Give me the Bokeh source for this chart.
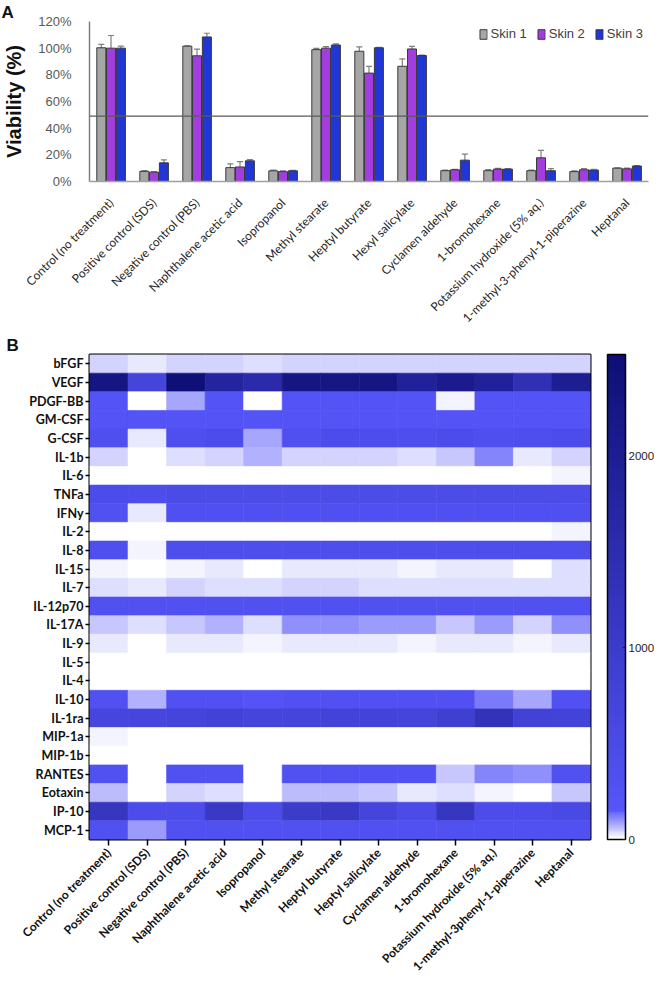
import math
from bokeh.plotting import figure
from bokeh.models import (ColumnDataSource, FactorRange, Span, Whisker, TeeHead, Legend, LegendItem,
                          LinearColorMapper, ColorBar, FixedTicker)
from bokeh.layouts import column
from bokeh.transform import dodge
from bokeh.embed import file_html
from bokeh.resources import INLINE

# ---------------- Panel A data ----------------
treatments_a = ["Control (no treatment)", "Positive control (SDS)", "Negative control (PBS)",
                "Naphthalene acetic acid", "Isopropanol", "Methyl stearate", "Heptyl butyrate",
                "Hexyl salicylate", "Cyclamen aldehyde", "1-bromohexane",
                "Potassium hydroxide (5% aq.)", "1-methyl-3-phenyl-1-piperazine", "Heptanal"]
skin1 = [100.3, 7.6, 101.5, 10.4, 8.0, 98.9, 97.7, 86.4, 8.1, 8.1, 8.1, 7.4, 10.0]
skin1_err = [2.5, 0.5, 0.3, 2.8, 0.5, 1.0, 3.2, 5.5, 0.5, 0.8, 0.5, 0.5, 0.3]
skin2 = [100.0, 7.0, 94.3, 10.9, 7.4, 100.0, 81.3, 99.4, 8.8, 9.3, 17.8, 8.8, 9.5]
skin2_err = [9.5, 0.5, 5.0, 4.0, 0.6, 1.2, 5.0, 2.0, 0.3, 0.5, 5.5, 0.8, 0.5]
skin3 = [100.0, 14.0, 108.4, 15.5, 8.0, 102.4, 100.3, 94.5, 16.0, 9.3, 8.1, 8.6, 11.6]
skin3_err = [1.5, 2.2, 2.8, 1.0, 0.4, 0.8, 0.4, 0.3, 4.6, 0.4, 1.6, 0.6, 0.3]
series_names = ["Skin 1", "Skin 2", "Skin 3"]
threshold = 49
y_ticks_a = [0, 20, 40, 60, 80, 100, 120]

# ---------------- Panel B data ----------------
treatments_b = ["Control (no treatment)", "Positive control (SDS)", "Negative control (PBS)",
                "Naphthalene acetic acid", "Isopropanol", "Methyl stearate", "Heptyl butyrate",
                "Heptyl salicylate", "Cyclamen aldehyde", "1-bromohexane",
                "Potassium hydroxide (5% aq.)", "1-methyl-3phenyl-1-piperazine", "Heptanal"]
cytokines = ["bFGF", "VEGF", "PDGF-BB", "GM-CSF", "G-CSF", "IL-1b", "IL-6", "TNFa", "IFNy", "IL-2",
             "IL-8", "IL-15", "IL-7", "IL-12p70", "IL-17A", "IL-9", "IL-5", "IL-4", "IL-10", "IL-1ra",
             "MIP-1a", "MIP-1b", "RANTES", "Eotaxin", "IP-10", "MCP-1"]
bFGF = [40, 28, 40, 40, 36, 40, 40, 40, 42, 40, 42, 40, 42]
VEGF = [2300, 700, 2500, 1800, 1600, 2300, 2250, 2300, 1900, 2100, 1900, 1400, 2000]
PDGF_BB = [220, 8, 85, 220, 0, 220, 220, 220, 220, 15, 220, 220, 220]
GM_CSF = [230, 230, 230, 230, 230, 230, 230, 230, 230, 230, 230, 230, 230]
G_CSF = [350, 20, 350, 450, 85, 330, 450, 420, 400, 450, 350, 380, 450]
IL_1b = [45, 3, 35, 45, 75, 42, 48, 40, 35, 55, 110, 25, 40]
IL_6 = [8, 3, 7, 6, 5, 6, 7, 8, 7, 8, 7, 9, 12]
TNFa = [450, 430, 480, 470, 470, 470, 460, 470, 470, 470, 460, 460, 470]
IFNy = [300, 22, 330, 330, 330, 330, 330, 330, 330, 330, 330, 330, 330]
IL_2 = [8, 3, 7, 6, 4, 6, 5, 5, 5, 5, 5, 6, 12]
IL_8 = [350, 15, 380, 380, 380, 380, 380, 380, 380, 400, 380, 380, 380]
IL_15 = [15, 0, 15, 22, 2, 28, 28, 22, 15, 22, 25, 3, 35]
IL_7 = [35, 22, 42, 37, 30, 42, 42, 37, 37, 35, 37, 30, 37]
IL_12p70 = [300, 300, 300, 300, 300, 300, 300, 300, 300, 300, 300, 300, 300]
IL_17A = [55, 30, 55, 70, 35, 105, 105, 90, 90, 55, 90, 45, 105]
IL_9 = [22, 6, 22, 22, 15, 20, 20, 20, 18, 20, 20, 18, 28]
IL_5 = [2, 2, 2, 2, 2, 2, 2, 2, 2, 2, 2, 2, 2]
IL_4 = [3, 3, 3, 3, 3, 3, 3, 3, 3, 3, 3, 3, 3]
IL_10 = [300, 70, 300, 300, 220, 300, 300, 300, 300, 300, 125, 80, 300]
IL_1ra = [650, 650, 700, 800, 700, 700, 750, 750, 700, 900, 1300, 800, 750]
MIP_1a = [10, 2, 7, 7, 6, 8, 8, 7, 7, 7, 7, 6, 7]
MIP_1b = [2, 1, 2, 2, 1, 2, 2, 2, 2, 2, 2, 2, 2]
RANTES = [300, 0, 300, 300, 0, 300, 300, 280, 280, 50, 110, 105, 300]
Eotaxin = [60, 0, 48, 35, 0, 65, 62, 55, 22, 35, 10, 7, 55]
IP_10 = [1200, 450, 450, 1100, 450, 1000, 1100, 700, 500, 1200, 450, 450, 550]
MCP_1 = [300, 90, 300, 300, 300, 300, 300, 300, 300, 300, 300, 300, 300]
rows = [bFGF, VEGF, PDGF_BB, GM_CSF, G_CSF, IL_1b, IL_6, TNFa, IFNy, IL_2, IL_8, IL_15, IL_7,
        IL_12p70, IL_17A, IL_9, IL_5, IL_4, IL_10, IL_1ra, MIP_1a, MIP_1b, RANTES, Eotaxin, IP_10, MCP_1]
colorbar_ticks = [0, 1000, 2000]
color_low, color_high = 0, 2530

ARIAL = "Liberation Sans"
CAL = "Lato"

# ---------------- Panel A ----------------
pA = figure(x_range=FactorRange(*treatments_a), y_range=(0, 120),
            frame_width=559, frame_height=160,
            output_backend="svg", toolbar_location=None,
            min_border_left=89, min_border_right=6, min_border_top=0, min_border_bottom=152)
pA.outline_line_color = None
pA.xgrid.grid_line_color = None
pA.ygrid.grid_line_color = None

pA.title.text = "A"
pA.title.align = "left"
pA.title.offset = -88
pA.title.standoff = 0
pA.title.text_font = ARIAL
pA.title.text_font_style = "bold"
pA.title.text_font_size = "17px"
pA.title.text_color = "#111111"

src = ColumnDataSource(dict(
    t=treatments_a,
    s1=skin1, s2=skin2, s3=skin3,
    s1u=[v + e for v, e in zip(skin1, skin1_err)], s1l=[v - e for v, e in zip(skin1, skin1_err)],
    s2u=[v + e for v, e in zip(skin2, skin2_err)], s2l=[v - e for v, e in zip(skin2, skin2_err)],
    s3u=[v + e for v, e in zip(skin3, skin3_err)], s3l=[v - e for v, e in zip(skin3, skin3_err)],
))

bar_colors = ["#a6a6a6", "#a23de0", "#2036d6"]
offsets = [-0.225, 0.0, 0.23]
keys = ["s1", "s2", "s3"]
renderers = []
for key, col, off in zip(keys, bar_colors, offsets):
    r = pA.vbar(x=dodge("t", off, range=pA.x_range), top=key, width=0.21, source=src,
                fill_color=col, line_color="#3a3a3a", line_width=1)
    renderers.append(r)
    w = Whisker(source=src, base=dodge("t", off, range=pA.x_range), upper=key + "u", lower=key + "l",
                line_color="#7f7f7f", line_width=1.2,
                upper_head=TeeHead(size=6, line_color="#7f7f7f", line_width=1.2),
                lower_head=TeeHead(size=6, line_color="#7f7f7f", line_width=1.2))
    pA.add_layout(w)

pA.add_layout(Span(location=threshold, dimension="width", line_color="#5a5a5a", line_width=1.3))

legend = Legend(items=[LegendItem(label=n, renderers=[r]) for n, r in zip(series_names, renderers)],
                orientation="horizontal", ncols=3, location="top_right", padding=3, margin=2, spacing=10,
                glyph_width=9, glyph_height=12, label_standoff=3,
                label_text_font=ARIAL, label_text_font_size="13px", label_text_color="#404040",
                background_fill_alpha=0, border_line_alpha=0)
pA.add_layout(legend)

pA.yaxis.ticker = FixedTicker(ticks=y_ticks_a)
pA.yaxis.major_label_overrides = {t: f"{t}%" for t in y_ticks_a}
pA.yaxis.major_label_text_font = ARIAL
pA.yaxis.major_label_text_font_size = "13px"
pA.yaxis.major_label_text_color = "#595959"
pA.yaxis.major_tick_line_color = None
pA.yaxis.minor_tick_line_color = None
pA.yaxis.axis_line_color = "#808080"
pA.yaxis.axis_line_width = 1.5
pA.yaxis.major_label_standoff = 12
pA.yaxis.axis_label = "Viability (%)"
pA.yaxis.axis_label_text_font = ARIAL
pA.yaxis.axis_label_text_font_style = "bold"
pA.yaxis.axis_label_text_font_size = "20px"
pA.yaxis.axis_label_text_color = "#111111"
pA.yaxis.axis_label_standoff = 10

pA.xaxis.major_label_orientation = math.pi / 4
pA.xaxis.major_label_text_font = CAL
pA.xaxis.major_label_text_font_size = "12px"
pA.xaxis.major_label_text_color = "#262626"
pA.xaxis.major_tick_line_color = None
pA.xaxis.axis_line_color = "#a0a0a0"
pA.xaxis.axis_line_width = 1.5
pA.xaxis.major_label_standoff = 13

# ---------------- Panel B ----------------
def build_palette(stops, n=256):
    out = []
    for i in range(n):
        f = i / (n - 1)
        for (f0, c0), (f1, c1) in zip(stops[:-1], stops[1:]):
            if f0 <= f <= f1:
                t = (f - f0) / (f1 - f0) if f1 > f0 else 0
                c = [round(a + (b - a) * t) for a, b in zip(c0, c1)]
                out.append("#%02x%02x%02x" % tuple(c))
                break
    return out

palette = build_palette([(0.0, (255, 255, 255)), (0.06, (85, 85, 250)), (1.0, (14, 14, 118))])
mapper = LinearColorMapper(palette=palette, low=color_low, high=color_high)

hx, hy, hv = [], [], []
for cyt, vals in zip(cytokines, rows):
    for tr, v in zip(treatments_b, vals):
        hx.append(tr)
        hy.append(cyt)
        hv.append(v)
hsrc = ColumnDataSource(dict(x=hx, y=hy, v=hv))

FW_B = 501
pB = figure(x_range=FactorRange(*treatments_b), y_range=FactorRange(*reversed(cytokines)),
            frame_width=FW_B, frame_height=485, output_backend="svg", toolbar_location=None,
            min_border_left=84, min_border_right=69, min_border_top=0, min_border_bottom=139)
pB.rect(x="x", y="y", width=1, height=1, source=hsrc,
        fill_color={"field": "v", "transform": mapper},
        line_color={"field": "v", "transform": mapper}, line_width=0.6)
pB.outline_line_color = "black"
pB.outline_line_width = 2
pB.xgrid.grid_line_color = None
pB.ygrid.grid_line_color = None

pB.title.text = "B"
pB.title.align = "left"
pB.title.offset = -83
pB.title.standoff = 0
pB.title.text_font = ARIAL
pB.title.text_font_style = "bold"
pB.title.text_font_size = "17px"
pB.title.text_color = "#111111"

for ax in (pB.xaxis, pB.yaxis):
    ax.axis_line_color = None
    ax.major_tick_line_color = "black"
    ax.major_tick_line_width = 1.5
    ax.major_tick_in = 0
    ax.major_label_text_font = CAL
    ax.major_label_text_font_style = "bold"
    ax.major_label_text_color = "#111111"
pB.yaxis.major_label_text_font_size = "12.5px"
pB.xaxis.major_label_text_font_size = "12px"
pB.yaxis.major_tick_out = 4
pB.yaxis.major_label_standoff = 2
pB.xaxis.major_tick_out = 6
pB.xaxis.major_label_standoff = 5
pB.xaxis.major_label_orientation = math.pi / 4

cb = ColorBar(color_mapper=mapper, ticker=FixedTicker(ticks=colorbar_ticks), location=(FW_B + 17, 0),
              width=18, height=485, padding=0, margin=0, label_standoff=3,
              major_label_text_font=ARIAL, major_label_text_font_size="11.5px",
              major_label_text_color="#222222",
              major_tick_in=3, major_tick_out=0, major_tick_line_color="#222222",
              bar_line_color="black", bar_line_width=1.5,
              border_line_color=None, background_fill_alpha=0)
pB.add_layout(cb)

layout = column(pA, pB, spacing=0)
open("out.html", "w").write(file_html(layout, INLINE))
